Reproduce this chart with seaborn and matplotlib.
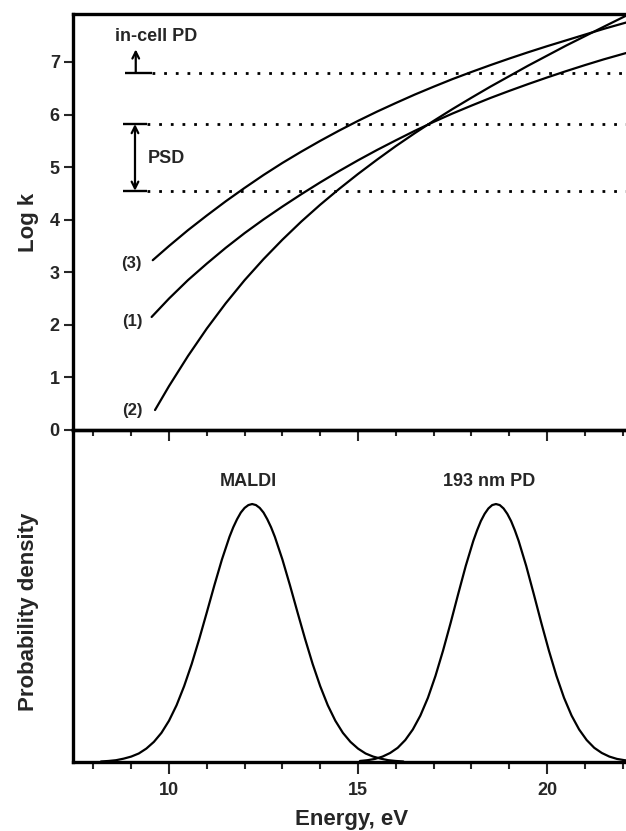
import numpy as np
import pandas as pd
import matplotlib
matplotlib.use("Agg")
import matplotlib.pyplot as plt
from matplotlib.ticker import MultipleLocator, NullLocator
import seaborn as sns

# ---------------- data ----------------
# Log k vs internal energy, three rate curves
curve1_energy = [9.54, 10.0, 10.5, 11.0, 11.5, 12.0, 12.5, 13.0, 13.5, 14.0, 14.5, 15.0, 15.5, 16.0,
                 16.5, 17.0, 17.5, 18.0, 18.5, 19.0, 19.5, 20.0, 20.5, 21.0, 21.5, 22.09]
curve1_logk   = [2.15, 2.50, 2.85, 3.165, 3.465, 3.745, 4.005, 4.25, 4.485, 4.71, 4.925, 5.13, 5.325,
                 5.51, 5.69, 5.86, 6.02, 6.17, 6.315, 6.45, 6.58, 6.705, 6.825, 6.94, 7.05, 7.17]

curve2_energy = [9.63, 10.0, 10.5, 11.0, 11.5, 12.0, 12.5, 13.0, 13.5, 14.0, 14.5, 15.0, 15.5, 16.0,
                 16.5, 17.0, 17.5, 18.0, 18.5, 19.0, 19.5, 20.0, 20.5, 21.0, 21.5, 22.09, 22.2]
curve2_logk   = [0.38, 0.835, 1.405, 1.93, 2.41, 2.85, 3.25, 3.62, 3.965, 4.285, 4.585, 4.87, 5.14,
                 5.40, 5.645, 5.88, 6.105, 6.32, 6.53, 6.73, 6.93, 7.12, 7.31, 7.49, 7.67, 7.88, 7.92]

curve3_energy = [9.57, 10.0, 10.5, 11.0, 11.5, 12.0, 12.5, 13.0, 13.5, 14.0, 14.5, 15.0, 15.5, 16.0,
                 16.5, 17.0, 17.5, 18.0, 18.5, 19.0, 19.5, 20.0, 20.5, 21.0, 21.5, 22.09]
curve3_logk   = [3.23, 3.50, 3.80, 4.08, 4.35, 4.605, 4.85, 5.08, 5.295, 5.50, 5.695, 5.88, 6.055,
                 6.22, 6.38, 6.53, 6.675, 6.81, 6.94, 7.065, 7.185, 7.30, 7.41, 7.52, 7.63, 7.75]

curve_labels = ["(1)", "(2)", "(3)"]
curve_label_pos = [(9.04, 2.06), (9.04, 0.38), (9.01, 3.16)]

# threshold levels (log k)
psd_low, psd_high, incell = 4.55, 5.82, 6.80

# energy distributions (relative probability density)
maldi_energy = [8.2, 8.4, 8.6, 8.8, 9.0, 9.2, 9.4, 9.6, 9.8, 10.0, 10.2, 10.4, 10.6, 10.8, 11.0,
                11.2, 11.4, 11.6, 11.7, 11.8, 11.9, 12.0, 12.1, 12.2, 12.3, 12.4, 12.5, 12.6, 12.7,
                12.8, 13.0, 13.2, 13.4, 13.6, 13.8, 14.0, 14.2, 14.4, 14.6, 14.8, 15.0, 15.2, 15.4,
                15.6, 15.8, 16.0, 16.2]
maldi_density = [0.002, 0.004, 0.007, 0.013, 0.021, 0.033, 0.052, 0.078, 0.113, 0.160, 0.220, 0.294,
                 0.380, 0.477, 0.580, 0.685, 0.785, 0.873, 0.910, 0.941, 0.967, 0.985, 0.996, 1.000,
                 0.996, 0.985, 0.967, 0.941, 0.910, 0.873, 0.785, 0.685, 0.580, 0.477, 0.380, 0.294,
                 0.220, 0.160, 0.113, 0.078, 0.052, 0.033, 0.021, 0.013, 0.007, 0.004, 0.002]

pd_energy = [15.05, 15.25, 15.45, 15.65, 15.85, 16.05, 16.25, 16.45, 16.65, 16.85, 17.05, 17.25,
             17.45, 17.65, 17.85, 18.05, 18.15, 18.25, 18.35, 18.45, 18.55, 18.65, 18.75, 18.85,
             18.95, 19.05, 19.15, 19.25, 19.45, 19.65, 19.85, 20.05, 20.25, 20.45, 20.65, 20.85,
             21.05, 21.25, 21.45, 21.65, 21.85, 22.05, 22.25]
pd_density = [0.004, 0.007, 0.012, 0.021, 0.035, 0.055, 0.085, 0.126, 0.180, 0.249, 0.334, 0.432,
              0.539, 0.651, 0.760, 0.857, 0.898, 0.934, 0.962, 0.983, 0.996, 1.000, 0.996, 0.983,
              0.962, 0.934, 0.898, 0.857, 0.760, 0.651, 0.539, 0.432, 0.334, 0.249, 0.180, 0.126,
              0.085, 0.055, 0.035, 0.021, 0.012, 0.007, 0.004]

x_major_ticks = [10, 15, 20]
y_ticks_top = [0, 1, 2, 3, 4, 5, 6, 7]

# ---------------- style ----------------
sns.set_style("ticks")
plt.rcParams["font.family"] = ["Liberation Sans", "DejaVu Sans"]
plt.rcParams["font.weight"] = "bold"
plt.rcParams["axes.labelweight"] = "bold"
plt.rcParams["lines.solid_joinstyle"] = "round"

fig = plt.figure(figsize=(6.26, 8.31), dpi=100)
L = 73 / 626
ax1 = fig.add_axes([L, 1 - 430 / 831, 1 - L, (430 - 14) / 831])
ax2 = fig.add_axes([L, 1 - 762 / 831, 1 - L, (762 - 430) / 831])
ax2.patch.set_visible(False)

lw_curve = 1.6
for e, k in [(curve1_energy, curve1_logk), (curve2_energy, curve2_logk), (curve3_energy, curve3_logk)]:
    df = pd.DataFrame({"energy": e, "logk": k})
    sns.lineplot(data=df, x="energy", y="logk", ax=ax1, color="black", lw=lw_curve,
                 sort=False, estimator=None)

# thresholds
for lev, x0, x1 in [(incell, 8.84, 9.55), (psd_high, 8.78, 9.42), (psd_low, 8.78, 9.42)]:
    ax1.plot([x0, x1], [lev, lev], color="black", lw=1.7, solid_capstyle="butt")
    ax1.plot([x1, 22.5], [lev, lev], color="black", lw=2.0, linestyle=(0, (1, 3.2)),
             dash_capstyle="butt")

ax1.annotate("", xy=(9.12, 7.24), xytext=(9.12, incell),
             arrowprops=dict(arrowstyle="->", lw=1.6, color="black", mutation_scale=12,
                             shrinkA=0, shrinkB=0))
ax1.annotate("", xy=(9.1, psd_high), xytext=(9.1, psd_low),
             arrowprops=dict(arrowstyle="<->", lw=1.6, color="black", mutation_scale=12,
                             shrinkA=0, shrinkB=0))
ax1.text(9.66, 7.49, "in-cell PD", ha="center", va="center", fontsize=13, fontweight="bold")
ax1.text(9.44, 5.17, "PSD", ha="left", va="center", fontsize=13, fontweight="bold")
for lab, (x, y) in zip(curve_labels, curve_label_pos):
    ax1.text(x, y, lab, ha="center", va="center", fontsize=12, fontweight="bold")

xlim = (7.46, 22.09)
ax1.set_xlim(*xlim)
ax1.set_ylim(0, 7.913)
ax1.set_yticks(y_ticks_top)
ax1.xaxis.set_major_locator(MultipleLocator(5))
ax1.xaxis.set_minor_locator(MultipleLocator(1))
ax1.yaxis.set_minor_locator(NullLocator())
ax1.tick_params(axis="x", which="both", direction="out", labelbottom=False, width=1.5)
ax1.tick_params(axis="x", which="major", length=8)
ax1.tick_params(axis="x", which="minor", length=4.5)
ax1.tick_params(axis="y", which="major", direction="out", length=6.5, width=1.5,
                labelsize=13, pad=3)
ax1.set_xlabel("")
ax1.set_ylabel("Log k", fontsize=16, fontweight="bold")
ax1.yaxis.set_label_coords(39 / 626, 1 - 222 / 831, transform=fig.transFigure)

# bottom panel: energy distributions
sns.lineplot(x=maldi_energy, y=maldi_density, ax=ax2, color="black", lw=lw_curve,
             sort=False, estimator=None)
sns.lineplot(x=pd_energy, y=pd_density, ax=ax2, color="black", lw=lw_curve,
             sort=False, estimator=None)
ax2.text(12.09, 1.086, "MALDI", ha="center", va="center", fontsize=13, fontweight="bold")
ax2.text(18.47, 1.086, "193 nm PD", ha="center", va="center", fontsize=13, fontweight="bold")

ax2.set_xlim(*xlim)
ax2.set_ylim(0, 1.287)
ax2.set_xticks(x_major_ticks)
ax2.xaxis.set_minor_locator(MultipleLocator(1))
ax2.set_yticks([])
ax2.tick_params(axis="x", which="both", direction="out", width=1.5, labelsize=13, pad=6)
ax2.tick_params(axis="x", which="major", length=8.5)
ax2.tick_params(axis="x", which="minor", length=5)
ax2.set_xlabel("Energy, eV", fontsize=16, fontweight="bold")
ax2.xaxis.set_label_coords(352 / 626, 1 - 809 / 831, transform=fig.transFigure)
ax2.set_ylabel("Probability density", fontsize=16, fontweight="bold")
ax2.yaxis.set_label_coords(39 / 626, 1 - 612 / 831, transform=fig.transFigure)

for ax in (ax1, ax2):
    for s in ("left", "top", "bottom"):
        ax.spines[s].set_linewidth(2.4)
        ax.spines[s].set_color("black")
    ax.spines["right"].set_visible(False)
    for t in ax.get_xticklabels() + ax.get_yticklabels():
        t.set_fontweight("bold")

fig.savefig("out.png", dpi=100, facecolor="white")
